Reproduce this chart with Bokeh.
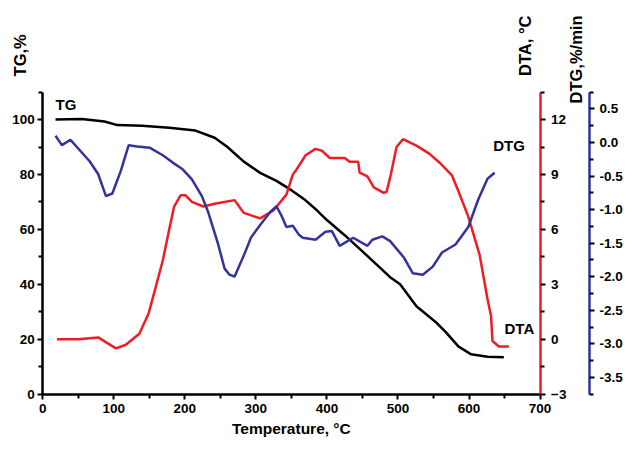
from bokeh.plotting import figure
from bokeh.models import (LinearAxis, Range1d, FixedTicker, PrintfTickFormatter, Label)
from bokeh.embed import file_html
from bokeh.resources import INLINE

# ---- data ----
tg_t = [18, 55, 87, 105, 140, 178, 215, 242, 260, 283, 306, 329, 350, 370, 387, 400,
        425, 450, 489, 503, 526, 553, 567, 585, 603, 626, 649]
tg_v = [100, 100.2, 99.3, 98, 97.8, 97, 96, 93.4, 90, 84.7, 80.6, 77.7, 74.3, 70.6, 66.7,
        63.4, 57.9, 52, 42.6, 40, 32, 26.3, 22.7, 17.4, 14.5, 13.6, 13.4]

dta_t = [20, 50, 78, 103, 117, 136, 149, 158, 169, 178, 185, 194, 201, 210, 226, 242, 270,
         283, 306, 325, 343, 352, 356, 370, 384, 393, 404, 425, 432, 444, 446, 457, 466,
         480, 484, 490, 498, 507, 526, 544, 560, 576, 585, 599, 615, 626, 631, 633, 642, 656]
dta_v = [0, 0, 0.1, -0.5, -0.3, 0.3, 1.4, 2.7, 4.3, 6.0, 7.25, 7.86, 7.86, 7.5, 7.25, 7.4,
         7.6, 6.9, 6.6, 7.05, 7.9, 9.0, 9.2, 10.05, 10.4, 10.3, 9.9, 9.9, 9.7, 9.7, 9.1,
         8.9, 8.3, 8.0, 8.05, 9.0, 10.5, 10.93, 10.58, 10.14, 9.6, 8.95, 8.1, 6.7, 4.6,
         2.2, 1.28, -0.1, -0.4, -0.4]

dtg_t = [18, 27, 39, 50, 66, 78, 89, 98, 110, 121, 133, 151, 169, 183, 197, 210, 224, 233,
         247, 256, 263, 270, 284, 293, 306, 320, 329, 336, 343, 352, 361, 366, 384, 398,
         407, 418, 437, 457, 464, 478, 489, 508, 521, 535, 549, 562, 581, 599, 613, 626, 636]
dtg_v = [0.1, -0.04, 0.04, -0.09, -0.28, -0.47, -0.8, -0.76, -0.42, -0.04, -0.06, -0.08,
         -0.19, -0.3, -0.4, -0.55, -0.8, -1.04, -1.52, -1.88, -1.97, -2.0, -1.66, -1.42,
         -1.23, -1.04, -0.95, -1.09, -1.26, -1.24, -1.38, -1.42, -1.45, -1.33, -1.32,
         -1.54, -1.42, -1.54, -1.45, -1.4, -1.47, -1.71, -1.95, -1.97, -1.85, -1.64,
         -1.52, -1.26, -0.85, -0.54, -0.45]

x_ticks = [0, 100, 200, 300, 400, 500, 600, 700]
x_minor = [50, 150, 250, 350, 450, 550, 650]
tg_ticks = [0, 20, 40, 60, 80, 100]
tg_minor = [10, 30, 50, 70, 90, 110]
dta_ticks = [-3, 0, 3, 6, 9, 12]
dta_minor = [-1.5, 1.5, 4.5, 7.5, 10.5, 13.5]
dtg_ticks = [0.5, 0.0, -0.5, -1.0, -1.5, -2.0, -2.5, -3.0, -3.5]
dtg_minor = [0.75, 0.25, -0.25, -0.75, -1.25, -1.75, -2.25, -2.75, -3.25, -3.75]

x_lim = (0, 700)
tg_lim = (0, 110)
dta_lim = (-3, 13.5)
dtg_lim = (-3.75, 0.75)

BLACK = "#000000"
RED = "#ee1c24"
BLUE = "#33349a"
FONT = "Liberation Sans"

# ---- layout (reference pixel anchors of the plot box) ----
W, H = 628, 438
REF_W, REF_H = 644, 454
BOX_L, BOX_R, BOX_T, BOX_B = 43.3, 553.3, 95.0, 408.0
DTG_AXIS_X = 604.0


def span(lo, hi, p_lo, p_hi, total):
    per = (hi - lo) / (p_hi - p_lo)
    return lo - p_lo * per, hi + (total - p_hi) * per


def yspan(lo, hi):
    per = (hi - lo) / (BOX_B - BOX_T)
    return lo - (REF_H - BOX_B) * per, hi + BOX_T * per


xr = span(x_lim[0], x_lim[1], BOX_L, BOX_R, REF_W)
x_per_px = (x_lim[1] - x_lim[0]) / (BOX_R - BOX_L)
dtg_axis_at = x_lim[0] + (DTG_AXIS_X - BOX_L) * x_per_px

p = figure(width=W, height=H, output_backend="svg", toolbar_location=None,
           x_range=Range1d(*xr), y_range=Range1d(*yspan(*tg_lim)),
           x_axis_location=None, y_axis_location=None,
           min_border=0, min_border_left=0, min_border_right=0,
           min_border_top=0, min_border_bottom=0)
p.extra_y_ranges = {"dta": Range1d(*yspan(*dta_lim)), "dtg": Range1d(*yspan(*dtg_lim))}
p.outline_line_color = None
p.grid.visible = False
p.background_fill_color = "white"
p.border_fill_color = "white"


def style_axis(ax, line_color):
    ax.axis_line_color = line_color
    ax.axis_line_width = 2.5
    ax.major_tick_line_color = BLACK
    ax.minor_tick_line_color = BLACK
    ax.major_tick_line_width = 2
    ax.minor_tick_line_width = 2
    ax.major_tick_in = 0
    ax.major_tick_out = 5
    ax.minor_tick_in = 0
    ax.minor_tick_out = 4
    ax.major_label_text_font = FONT
    ax.major_label_text_font_style = "bold"
    ax.major_label_text_font_size = "13.5px"
    ax.major_label_text_color = BLACK


xa = LinearAxis(fixed_location=tg_lim[0], bounds=x_lim)
style_axis(xa, BLACK)
xa.ticker = FixedTicker(ticks=x_ticks, minor_ticks=x_minor)
xa.major_label_standoff = 5
p.add_layout(xa, "below")

ya = LinearAxis(fixed_location=x_lim[0], bounds=tg_lim)
style_axis(ya, BLACK)
ya.ticker = FixedTicker(ticks=tg_ticks, minor_ticks=tg_minor)
ya.major_label_standoff = 3
p.add_layout(ya, "left")

ax_dta = LinearAxis(y_range_name="dta", fixed_location=x_lim[1], bounds=dta_lim)
style_axis(ax_dta, RED)
ax_dta.ticker = FixedTicker(ticks=dta_ticks, minor_ticks=dta_minor)
ax_dta.major_label_standoff = 6
p.add_layout(ax_dta, "right")

ax_dtg = LinearAxis(y_range_name="dtg", fixed_location=dtg_axis_at, bounds=dtg_lim)
style_axis(ax_dtg, BLUE)
ax_dtg.ticker = FixedTicker(ticks=dtg_ticks, minor_ticks=dtg_minor)
ax_dtg.formatter = PrintfTickFormatter(format="%.1f")
ax_dtg.major_label_standoff = 5
p.add_layout(ax_dtg, "right")

p.line(tg_t, tg_v, line_color=BLACK, line_width=2.5)
p.line(dta_t, dta_v, line_color=RED, line_width=2.5, y_range_name="dta")
p.line(dtg_t, dtg_v, line_color=BLUE, line_width=2.5, y_range_name="dtg")


def add_text(txt, x, y, size, angle=0, align="left"):
    p.add_layout(Label(x=x, y=y, text=txt, text_font=FONT, text_font_style="bold",
                       text_font_size=size, text_color=BLACK, angle=angle,
                       angle_units="deg", text_align=align, text_baseline="middle"))


add_text("TG", 18, 105.4, "15px")
add_text("DTG", 634, 90.7, "15px")
add_text("DTA", 650, 23.9, "15px")
add_text("TG,%", -32, 123.4, "16.5px", angle=90, align="center")
add_text("DTA, °C", 678.9, 126.9, "16.5px", angle=90, align="center")
add_text("DTG,%/min", 750.4, 121.9, "16.5px", angle=90, align="center")
add_text("Temperature, °C", 350, -12.6, "15.5px", align="center")

open("out.html", "w").write(file_html(p, INLINE))
